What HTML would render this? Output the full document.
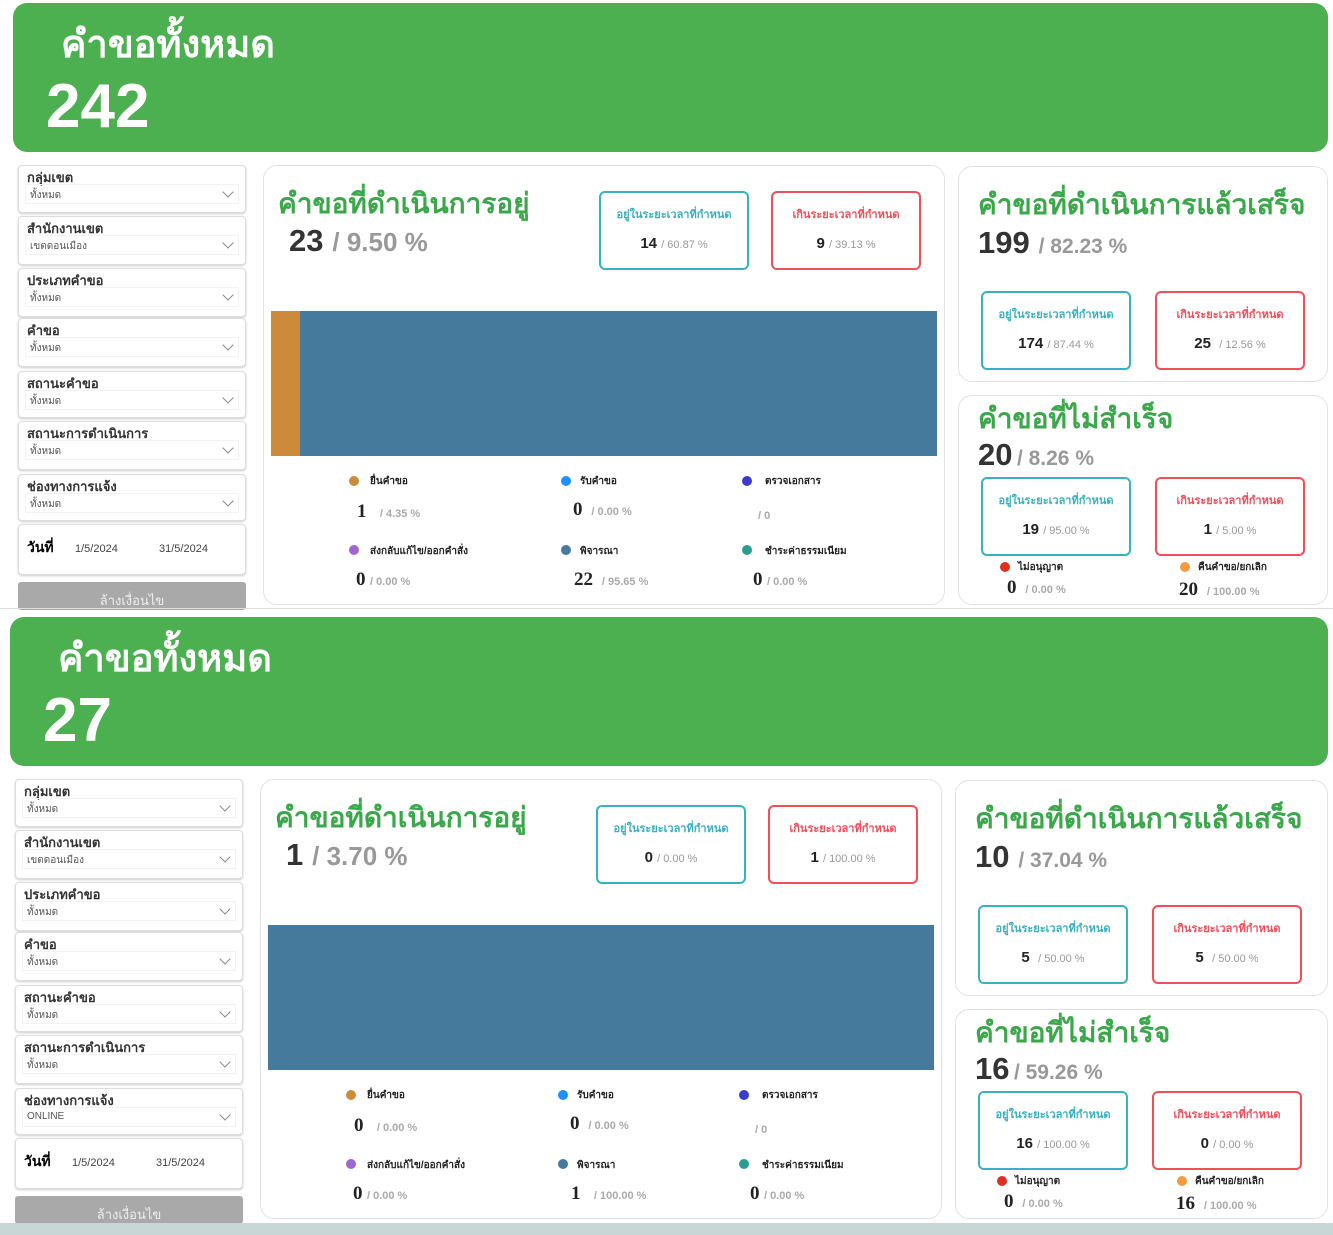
<!DOCTYPE html>
<html><head><meta charset="utf-8">
<style>
*{margin:0;padding:0;box-sizing:border-box}
body{width:1333px;height:1235px;background:#fff;position:relative;overflow:hidden;font-family:"Liberation Sans",sans-serif}
.p{position:absolute;left:0;top:0;width:1333px;height:614px}
.a{position:absolute;white-space:nowrap}
.ban{position:absolute;left:13px;top:3px;width:1315px;height:149px;background:#4caf50;border-radius:14px;color:#fff;font-weight:bold}
.ban .t{position:absolute;left:48px;top:10px;font-size:38px}
.ban .n{position:absolute;left:33px;top:68px;font-size:62px}
.f{position:absolute;left:18px;width:228px;background:#fff;border:1px solid #ddd;border-radius:4px;box-shadow:0 1px 2px #ccc}
.f .l{position:absolute;left:8px;top:1px;font-size:13px;font-weight:bold;color:#333}
.f .s{position:absolute;left:6px;right:6px;top:18px;height:20px;border:1px solid #f2f2f2;font-size:10px;color:#555;padding:3px 4px}
.f .s:after{content:"";position:absolute;right:6px;top:3px;width:7px;height:7px;border-right:1px solid #888;border-bottom:1px solid #888;transform:rotate(45deg)}
.card{position:absolute;background:#fff;border:1px solid #e2e2e2;border-radius:14px}
.gt{color:#3aa84a;font-weight:bold;font-size:28px}
.big{font-weight:bold;color:#333;font-size:31px}
.gr{color:#999;font-weight:bold}
.bx{position:absolute;width:150px;height:79px;border:2px solid #3bb0c0;border-radius:6px;text-align:center;background:#fff}
.bx.r{border-color:#f0505a}
.bx .h{margin-top:12px;font-size:11px;font-weight:bold;color:#3bb0c0}
.bx.r .h{color:#f0505a}
.bx .v{margin-top:12px;font-size:15px;font-weight:bold;color:#222}
.bx .v span{font-size:11px;color:#999;font-weight:normal}
.dot{position:absolute;width:10px;height:10px;border-radius:50%}
.lg{font-size:10px;font-weight:bold;color:#222}
.val{font-family:"Liberation Serif",serif;font-size:19px;font-weight:bold;color:#222}
.pc{font-size:11px;color:#aaa;font-weight:bold}
.btn{position:absolute;left:18px;top:582px;width:228px;height:28px;background:#a9a9a9;border-radius:3px;color:#eee;font-size:13px;text-align:center;padding-top:8px}
</style></head><body>

<!-- PANEL 1 -->
<div class="p">
<div class="ban"><div class="t">คำขอทั้งหมด</div><div class="n">242</div></div>
<div class="f" style="top:165px;height:48px"><div class="l">กลุ่มเขต</div><div class="s">ทั้งหมด</div></div>
<div class="f" style="top:216px;height:49px"><div class="l">สำนักงานเขต</div><div class="s">เขตดอนเมือง</div></div>
<div class="f" style="top:268px;height:49px"><div class="l">ประเภทคำขอ</div><div class="s">ทั้งหมด</div></div>
<div class="f" style="top:318px;height:49px"><div class="l">คำขอ</div><div class="s">ทั้งหมด</div></div>
<div class="f" style="top:371px;height:47px"><div class="l">สถานะคำขอ</div><div class="s">ทั้งหมด</div></div>
<div class="f" style="top:421px;height:49px"><div class="l">สถานะการดำเนินการ</div><div class="s">ทั้งหมด</div></div>
<div class="f" style="top:474px;height:47px"><div class="l">ช่องทางการแจ้ง</div><div class="s">ทั้งหมด</div></div>
<div class="f" style="top:524px;height:51px"><div class="a" style="left:8px;top:12px;font-size:14px;font-weight:bold">วันที่</div><div class="a" style="left:56px;top:18px;font-size:11px;color:#444">1/5/2024</div><div class="a" style="left:140px;top:18px;font-size:11px;color:#444">31/5/2024</div></div>
<div class="btn">ล้างเงื่อนไข</div>

<div class="card" style="left:263px;top:165px;width:682px;height:440px"></div>
<div class="a gt" style="left:278px;top:182px">คำขอที่ดำเนินการอยู่</div>
<div class="a" style="left:289px;top:223px"><span class="big">23</span>&nbsp; <span class="gr" style="font-size:26px">/ 9.50 %</span></div>
<div class="bx" style="left:599px;top:191px"><div class="h">อยู่ในระยะเวลาที่กำหนด</div><div class="v">14 <span>/ 60.87 %</span></div></div>
<div class="bx r" style="left:771px;top:191px"><div class="h">เกินระยะเวลาที่กำหนด</div><div class="v">9 <span>/ 39.13 %</span></div></div>
<div class="a" style="left:271px;top:311px;width:666px;height:145px;background:#467a9c"></div>
<div class="a" style="left:271px;top:311px;width:29px;height:145px;background:#cd8a3a"></div>
<div class="dot" style="left:349px;top:476px;background:#cd8a3a"></div><div class="a lg" style="left:370px;top:474px">ยื่นคำขอ</div>
<div class="dot" style="left:561px;top:476px;background:#1e90ff"></div><div class="a lg" style="left:580px;top:474px">รับคำขอ</div>
<div class="dot" style="left:742px;top:476px;background:#3b3bcc"></div><div class="a lg" style="left:765px;top:474px">ตรวจเอกสาร</div>
<div class="a" style="left:357px;top:501px"><span class="val">1</span>&nbsp;&nbsp; <span class="pc">/ 4.35 %</span></div>
<div class="a" style="left:573px;top:499px"><span class="val">0</span>&nbsp; <span class="pc">/ 0.00 %</span></div>
<div class="a" style="left:758px;top:506px"><span class="pc">/ 0</span></div>
<div class="dot" style="left:349px;top:545px;background:#a066d0"></div><div class="a lg" style="left:370px;top:544px">ส่งกลับแก้ไข/ออกคำสั่ง</div>
<div class="dot" style="left:561px;top:545px;background:#467a9c"></div><div class="a lg" style="left:580px;top:544px">พิจารณา</div>
<div class="dot" style="left:742px;top:545px;background:#2a9d8f"></div><div class="a lg" style="left:765px;top:544px">ชำระค่าธรรมเนียม</div>
<div class="a" style="left:356px;top:569px"><span class="val">0</span> <span class="pc">/ 0.00 %</span></div>
<div class="a" style="left:574px;top:569px"><span class="val">22</span>&nbsp; <span class="pc">/ 95.65 %</span></div>
<div class="a" style="left:753px;top:569px"><span class="val">0</span> <span class="pc">/ 0.00 %</span></div>

<div class="card" style="left:958px;top:166px;width:370px;height:216px"></div>
<div class="a gt" style="left:978px;top:183px">คำขอที่ดำเนินการแล้วเสร็จ</div>
<div class="a" style="left:978px;top:225px"><span class="big">199</span>&nbsp; <span class="gr" style="font-size:21px">/ 82.23 %</span></div>
<div class="bx" style="left:981px;top:291px"><div class="h">อยู่ในระยะเวลาที่กำหนด</div><div class="v">174 <span>/ 87.44 %</span></div></div>
<div class="bx r" style="left:1155px;top:291px"><div class="h">เกินระยะเวลาที่กำหนด</div><div class="v">25 &nbsp;<span>/ 12.56 %</span></div></div>
<div class="card" style="left:958px;top:395px;width:370px;height:210px"></div>
<div class="a gt" style="left:978px;top:397px">คำขอที่ไม่สำเร็จ</div>
<div class="a" style="left:978px;top:437px"><span class="big">20</span> <span class="gr" style="font-size:21px">/ 8.26 %</span></div>
<div class="bx" style="left:981px;top:477px"><div class="h">อยู่ในระยะเวลาที่กำหนด</div><div class="v">19 <span>/ 95.00 %</span></div></div>
<div class="bx r" style="left:1155px;top:477px"><div class="h">เกินระยะเวลาที่กำหนด</div><div class="v">1 <span>/ 5.00 %</span></div></div>
<div class="dot" style="left:1000px;top:562px;background:#e03020"></div><div class="a lg" style="left:1018px;top:560px">ไม่อนุญาต</div>
<div class="dot" style="left:1180px;top:562px;background:#f89a40"></div><div class="a lg" style="left:1198px;top:560px">คืนคำขอ/ยกเลิก</div>
<div class="a" style="left:1007px;top:577px"><span class="val">0</span>&nbsp; <span class="pc">/ 0.00 %</span></div>
<div class="a" style="left:1179px;top:579px"><span class="val">20</span>&nbsp; <span class="pc">/ 100.00 %</span></div>
</div>

<div class="a" style="left:0;top:608px;width:1333px;height:1px;background:#ddd"></div>

<!-- PANEL 2 -->
<div class="p" style="left:-3px;top:614px">
<div class="ban" style="width:1318px"><div class="t">คำขอทั้งหมด</div><div class="n">27</div></div>
<div class="f" style="top:165px;height:48px"><div class="l">กลุ่มเขต</div><div class="s">ทั้งหมด</div></div>
<div class="f" style="top:216px;height:49px"><div class="l">สำนักงานเขต</div><div class="s">เขตดอนเมือง</div></div>
<div class="f" style="top:268px;height:49px"><div class="l">ประเภทคำขอ</div><div class="s">ทั้งหมด</div></div>
<div class="f" style="top:318px;height:49px"><div class="l">คำขอ</div><div class="s">ทั้งหมด</div></div>
<div class="f" style="top:371px;height:47px"><div class="l">สถานะคำขอ</div><div class="s">ทั้งหมด</div></div>
<div class="f" style="top:421px;height:49px"><div class="l">สถานะการดำเนินการ</div><div class="s">ทั้งหมด</div></div>
<div class="f" style="top:474px;height:47px"><div class="l">ช่องทางการแจ้ง</div><div class="s">ONLINE</div></div>
<div class="f" style="top:524px;height:51px"><div class="a" style="left:8px;top:12px;font-size:14px;font-weight:bold">วันที่</div><div class="a" style="left:56px;top:18px;font-size:11px;color:#444">1/5/2024</div><div class="a" style="left:140px;top:18px;font-size:11px;color:#444">31/5/2024</div></div>
<div class="btn">ล้างเงื่อนไข</div>

<div class="card" style="left:263px;top:165px;width:682px;height:440px"></div>
<div class="a gt" style="left:278px;top:182px">คำขอที่ดำเนินการอยู่</div>
<div class="a" style="left:289px;top:223px"><span class="big">1</span>&nbsp; <span class="gr" style="font-size:26px">/ 3.70 %</span></div>
<div class="bx" style="left:599px;top:191px"><div class="h">อยู่ในระยะเวลาที่กำหนด</div><div class="v">0 <span>/ 0.00 %</span></div></div>
<div class="bx r" style="left:771px;top:191px"><div class="h">เกินระยะเวลาที่กำหนด</div><div class="v">1 <span>/ 100.00 %</span></div></div>
<div class="a" style="left:271px;top:311px;width:666px;height:145px;background:#467a9c"></div>
<div class="dot" style="left:349px;top:476px;background:#cd8a3a"></div><div class="a lg" style="left:370px;top:474px">ยื่นคำขอ</div>
<div class="dot" style="left:561px;top:476px;background:#1e90ff"></div><div class="a lg" style="left:580px;top:474px">รับคำขอ</div>
<div class="dot" style="left:742px;top:476px;background:#3b3bcc"></div><div class="a lg" style="left:765px;top:474px">ตรวจเอกสาร</div>
<div class="a" style="left:357px;top:501px"><span class="val">0</span>&nbsp;&nbsp; <span class="pc">/ 0.00 %</span></div>
<div class="a" style="left:573px;top:499px"><span class="val">0</span>&nbsp; <span class="pc">/ 0.00 %</span></div>
<div class="a" style="left:758px;top:506px"><span class="pc">/ 0</span></div>
<div class="dot" style="left:349px;top:545px;background:#a066d0"></div><div class="a lg" style="left:370px;top:544px">ส่งกลับแก้ไข/ออกคำสั่ง</div>
<div class="dot" style="left:561px;top:545px;background:#467a9c"></div><div class="a lg" style="left:580px;top:544px">พิจารณา</div>
<div class="dot" style="left:742px;top:545px;background:#2a9d8f"></div><div class="a lg" style="left:765px;top:544px">ชำระค่าธรรมเนียม</div>
<div class="a" style="left:356px;top:569px"><span class="val">0</span> <span class="pc">/ 0.00 %</span></div>
<div class="a" style="left:574px;top:569px"><span class="val">1</span>&nbsp;&nbsp; <span class="pc">/ 100.00 %</span></div>
<div class="a" style="left:753px;top:569px"><span class="val">0</span> <span class="pc">/ 0.00 %</span></div>

<div class="card" style="left:958px;top:166px;width:373px;height:216px"></div>
<div class="a gt" style="left:978px;top:183px">คำขอที่ดำเนินการแล้วเสร็จ</div>
<div class="a" style="left:978px;top:225px"><span class="big">10</span>&nbsp; <span class="gr" style="font-size:21px">/ 37.04 %</span></div>
<div class="bx" style="left:981px;top:291px"><div class="h">อยู่ในระยะเวลาที่กำหนด</div><div class="v">5 &nbsp;<span>/ 50.00 %</span></div></div>
<div class="bx r" style="left:1155px;top:291px"><div class="h">เกินระยะเวลาที่กำหนด</div><div class="v">5 &nbsp;<span>/ 50.00 %</span></div></div>
<div class="card" style="left:958px;top:395px;width:373px;height:210px"></div>
<div class="a gt" style="left:978px;top:397px">คำขอที่ไม่สำเร็จ</div>
<div class="a" style="left:978px;top:437px"><span class="big">16</span> <span class="gr" style="font-size:21px">/ 59.26 %</span></div>
<div class="bx" style="left:981px;top:477px"><div class="h">อยู่ในระยะเวลาที่กำหนด</div><div class="v">16 <span>/ 100.00 %</span></div></div>
<div class="bx r" style="left:1155px;top:477px"><div class="h">เกินระยะเวลาที่กำหนด</div><div class="v">0 <span>/ 0.00 %</span></div></div>
<div class="dot" style="left:1000px;top:562px;background:#e03020"></div><div class="a lg" style="left:1018px;top:560px">ไม่อนุญาต</div>
<div class="dot" style="left:1180px;top:562px;background:#f89a40"></div><div class="a lg" style="left:1198px;top:560px">คืนคำขอ/ยกเลิก</div>
<div class="a" style="left:1007px;top:577px"><span class="val">0</span>&nbsp; <span class="pc">/ 0.00 %</span></div>
<div class="a" style="left:1179px;top:579px"><span class="val">16</span>&nbsp; <span class="pc">/ 100.00 %</span></div>
</div>

<div class="a" style="left:0;top:1223px;width:1333px;height:12px;background:#c8d6d6"></div>
</body></html>
